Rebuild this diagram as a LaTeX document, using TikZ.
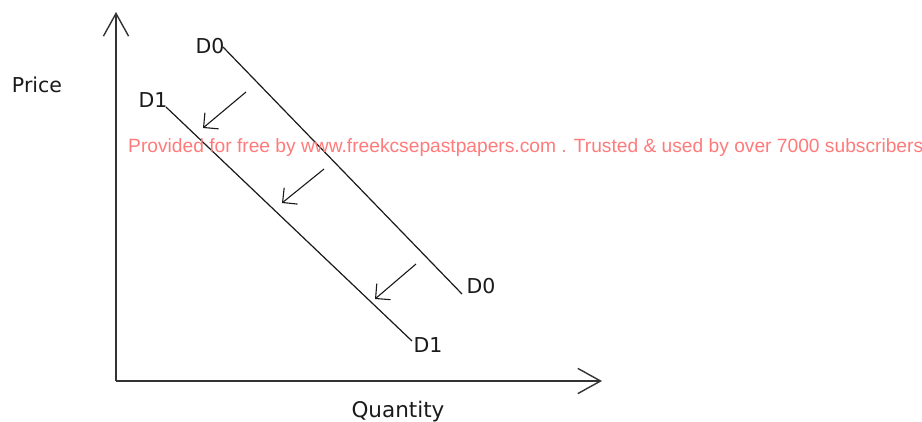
\documentclass[tikz,border=0pt]{standalone}
\usepackage{fontspec}
\setmainfont{DejaVu Sans}
\newfontfamily\markfont{Liberation Sans}
\usepackage{xcolor}
\usetikzlibrary{arrows.meta}
\definecolor{ink}{HTML}{1A1A1A}
\definecolor{axisgray}{HTML}{333333}
\definecolor{markred}{HTML}{FF7B7B}
\tikzset{
  axisline/.style={draw=axisgray,line width=1.8pt,
                   -{Straight Barb[angle=58:26pt,line width=1.4pt]}},
  curve/.style={draw=ink,line width=1.2pt},
  shiftarr/.style={draw=ink,line width=1.1pt,
                   -{Straight Barb[angle=90:15pt,line width=1.1pt]}},
  lbl/.style={font=\fontsize{20.5}{24}\selectfont,text=ink,inner sep=0pt,
              anchor=base},
  watermark/.style={font=\markfont\fontsize{19.2}{23}\selectfont,text=markred,
               inner sep=0pt,anchor=base west}
}
\begin{document}
\begin{tikzpicture}[x=1pt,y=-1pt]
  \useasboundingbox[fill=white] (0,0) rectangle (922,421);
  % axes
  \coordinate (o) at (116,381);
  \coordinate (ytip) at (116,12);
  \coordinate (xtip) at (602,381);
  \draw[axisline] (o) -- (ytip);
  \draw[axisline] (o) -- (xtip);
  \node[lbl] (price) at (37,92) {Price};
  \node[lbl,font=\fontsize{21.5}{24}\selectfont] (qty) at (398,417) {Quantity};
  % demand curves
  \coordinate (d0a) at (223,47);
  \coordinate (d0b) at (462,294);
  \coordinate (d1a) at (166,107);
  \coordinate (d1b) at (412,341);
  \draw[curve] (d0a) -- (d0b);
  \draw[curve] (d1a) -- (d1b);
  \node[lbl] (d0top) at (210,53) {D0};
  \node[lbl] (d1top) at (153,107) {D1};
  \node[lbl] (d0end) at (481,293) {D0};
  \node[lbl] (d1end) at (428,352) {D1};
  % shift of demand
  \foreach \i/\from/\to in {1/{246,92}/{203,128},2/{324,169}/{282,203},
                            3/{416,264}/{375,299}}{
    \coordinate (s\i a) at (\from);
    \coordinate (s\i b) at (\to);
    \draw[shiftarr] (s\i a) -- (s\i b);
  }
  \node[watermark] (note) at (128,152)
    {Provided for free by www.freekcsepastpapers.com . Trusted \& used by over 7000 subscribers};
\end{tikzpicture}
\end{document}
